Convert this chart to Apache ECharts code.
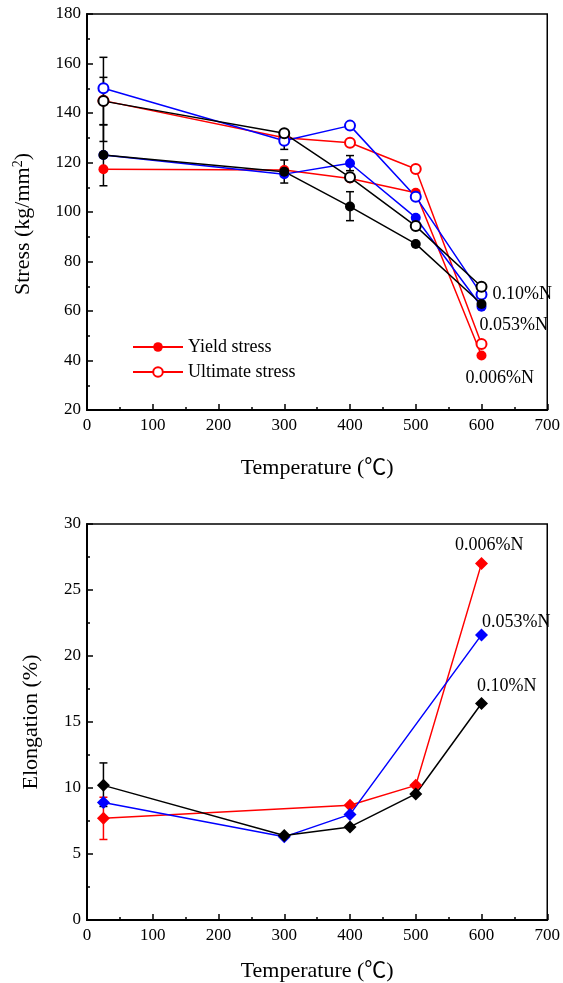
<!DOCTYPE html>
<html>
<head>
<meta charset="utf-8">
<script src="https://cdn.jsdelivr.net/npm/echarts@6/dist/echarts.min.js"></script>
<style>
html,body{margin:0;padding:0;background:#fff;}
#chart{width:563px;height:983px;}
</style>
</head>
<body>
<div id="chart"></div>
<script>
// ---------- DATA ----------
const stressTemps = [25, 300, 400, 500, 600];
const yield006 = [117.3, 117.0, 113.5, 107.8, 42.0];
const ult006   = [145.0, 130.0, 128.0, 117.4, 46.7];
const yield053 = [123.0, 115.3, 119.7, 97.7, 61.7];
const ult053   = [150.0, 128.8, 134.9, 106.2, 66.7];
const yield010 = [123.0, 116.3, 102.2, 87.1, 62.8];
const ult010   = [144.8, 131.8, 114.0, 94.3, 69.8];
// error bars on stress plot: [temperature, low, high]
const stressErr = [
  [25, 128.5, 162.5],
  [25, 135.2, 154.4],
  [25, 110.6, 135.3],
  [300, 125.3, 132.5],
  [300, 111.7, 121.0],
  [400, 116.7, 122.8],
  [400, 96.5, 108.2]
];

const elongTemps006 = [25, 400, 500, 600];
const elong006 = [7.7, 8.7, 10.2, 27.0];
const elongTemps053 = [25, 300, 400, 600];
const elong053 = [8.9, 6.3, 8.0, 21.6];
const elongTemps010 = [25, 300, 400, 500, 600];
const elong010 = [10.2, 6.4, 7.05, 9.55, 16.4];
const elongErr006 = [[25, 6.1, 9.3]];
const elongErr010 = [[25, 8.6, 11.9]];

const seriesLabels = ['0.006%N', '0.053%N', '0.10%N'];
const legendNames = ['Yield stress', 'Ultimate stress'];
const xTitle = 'Temperature (\u2103)';
const yTitleTop = '{m|Stress (kg/mm}{sup|2}{m|)}';
const yTitleBottom = 'Elongation (%)';

// ---------- STYLE ----------
const FONT = "'Times New Roman','Liberation Serif','Noto Sans CJK JP',serif";
const RED = '#ff0000', BLUE = '#0000ff', BLACK = '#000000';

function pairs(xs, ys) { return xs.map((x, i) => [x, ys[i]]); }
function withLabel(data, idx, text, offset) {
  return data.map((d, i) => i === idx ? {
    value: d,
    label: { show: true, position: 'right', distance: 0, offset: offset, formatter: text,
      color: '#000', fontSize: 18, fontFamily: FONT }
  } : d);
}
function errRender(color) {
  return function (params, api) {
    const x = api.value(0), lo = api.value(1), hi = api.value(2);
    const p1 = api.coord([x, lo]), p2 = api.coord([x, hi]);
    const w = 4;
    const st = { stroke: color, lineWidth: 1.5 };
    return { type: 'group', children: [
      { type: 'line', shape: { x1: p1[0], y1: p1[1], x2: p2[0], y2: p2[1] }, style: st },
      { type: 'line', shape: { x1: p1[0] - w, y1: p1[1], x2: p1[0] + w, y2: p1[1] }, style: st },
      { type: 'line', shape: { x1: p2[0] - w, y1: p2[1], x2: p2[0] + w, y2: p2[1] }, style: st }
    ]};
  };
}
function lineSeries(name, data, color, symbol, size, gi) {
  return {
    type: 'line', name: name, xAxisIndex: gi, yAxisIndex: gi, data: data,
    symbol: symbol, symbolSize: size, showSymbol: true,
    lineStyle: { color: color, width: 1.5 },
    itemStyle: { color: color, borderColor: color, borderWidth: symbol === 'emptyCircle' ? 1.8 : 0 },
    emphasis: { disabled: true }, animation: false, z: 3
  };
}
function xAxis(gi) {
  return {
    type: 'value', gridIndex: gi, min: 0, max: 700, interval: 100,
    name: xTitle, nameLocation: 'middle', nameGap: gi === 0 ? 47 : 40,
    nameTextStyle: { fontSize: 22, fontFamily: FONT, color: '#000' },
    axisLine: { show: true, onZero: false, lineStyle: { color: '#000', width: 2 } },
    axisTick: { show: true, inside: true, length: 6, lineStyle: { color: '#000', width: 1.5 } },
    minorTick: { show: true, splitNumber: 2, length: 3, lineStyle: { color: '#000', width: 1.5 } },
    axisLabel: { fontSize: 17, fontFamily: FONT, color: '#000', margin: 7 },
    splitLine: { show: false }
  };
}
function yAxis(gi, min, max, interval, name, gap, pad) {
  return {
    type: 'value', gridIndex: gi, min: min, max: max, interval: interval,
    name: name, nameLocation: 'middle', nameGap: gap,
    nameTextStyle: { fontSize: 22, fontFamily: FONT, color: '#000', padding: pad,
      rich: {
        m: { fontSize: 22, fontFamily: FONT, color: '#000', lineHeight: 24 },
        sup: { fontSize: 14, fontFamily: FONT, color: '#000', verticalAlign: 'top', lineHeight: 14 }
      } },
    axisLine: { show: true, onZero: false, lineStyle: { color: '#000', width: 2 } },
    axisTick: { show: true, inside: true, length: 6, lineStyle: { color: '#000', width: 1.5 } },
    minorTick: { show: true, splitNumber: 2, length: 3, lineStyle: { color: '#000', width: 1.5 } },
    axisLabel: { fontSize: 17, fontFamily: FONT, color: '#000', margin: 6 },
    splitLine: { show: false }
  };
}

const chart = echarts.init(document.getElementById('chart'), null, { renderer: 'canvas' });

const series = [
  { type: 'custom', xAxisIndex: 0, yAxisIndex: 0, data: stressErr, renderItem: errRender(BLACK), z: 2, silent: true, animation: false },
  lineSeries(legendNames[0], withLabel(pairs(stressTemps, yield006), 4, seriesLabels[0], [-21, 23]), RED, 'circle', 10, 0),
  lineSeries(legendNames[1], pairs(stressTemps, ult006), RED, 'emptyCircle', 10, 0),
  lineSeries('y053', withLabel(pairs(stressTemps, yield053), 4, seriesLabels[1], [-7, 18]), BLUE, 'circle', 10, 0),
  lineSeries('u053', pairs(stressTemps, ult053), BLUE, 'emptyCircle', 10, 0),
  lineSeries('y010', pairs(stressTemps, yield010), BLACK, 'circle', 10, 0),
  lineSeries('u010', withLabel(pairs(stressTemps, ult010), 4, seriesLabels[2], [5, 8]), BLACK, 'emptyCircle', 10, 0),

  { type: 'custom', xAxisIndex: 1, yAxisIndex: 1, data: elongErr006, renderItem: errRender(RED), z: 2, silent: true, animation: false },
  { type: 'custom', xAxisIndex: 1, yAxisIndex: 1, data: elongErr010, renderItem: errRender(BLACK), z: 2, silent: true, animation: false },
  lineSeries('e006', withLabel(pairs(elongTemps006, elong006), 3, seriesLabels[0], [-33, -18]), RED, 'diamond', 13, 1),
  lineSeries('e053', withLabel(pairs(elongTemps053, elong053), 3, seriesLabels[1], [-6, -13]), BLUE, 'diamond', 13, 1),
  lineSeries('e010', withLabel(pairs(elongTemps010, elong010), 4, seriesLabels[2], [-11, -17]), BLACK, 'diamond', 13, 1)
];

chart.setOption({
  backgroundColor: '#fff',
  animation: false,
  grid: [
    { left: 87, top: 14, width: 464, height: 396, show: true, borderColor: '#000', borderWidth: 1.5, backgroundColor: 'transparent' },
    { left: 87, top: 524, width: 464, height: 396, show: true, borderColor: '#000', borderWidth: 1.5, backgroundColor: 'transparent' }
  ],
  xAxis: [xAxis(0), xAxis(1)],
  yAxis: [
    yAxis(0, 20, 180, 20, yTitleTop, 52, [0, 24, 0, 0]),
    yAxis(1, 0, 30, 5, yTitleBottom, 45, 0)
  ],
  legend: {
    data: legendNames, orient: 'vertical', left: 127, top: 333,
    itemWidth: 50, itemHeight: 12, itemGap: 7,
    textStyle: { fontSize: 18, fontFamily: FONT, color: '#000' },
    selectedMode: false
  },
  series: series
});
</script>
</body>
</html>
